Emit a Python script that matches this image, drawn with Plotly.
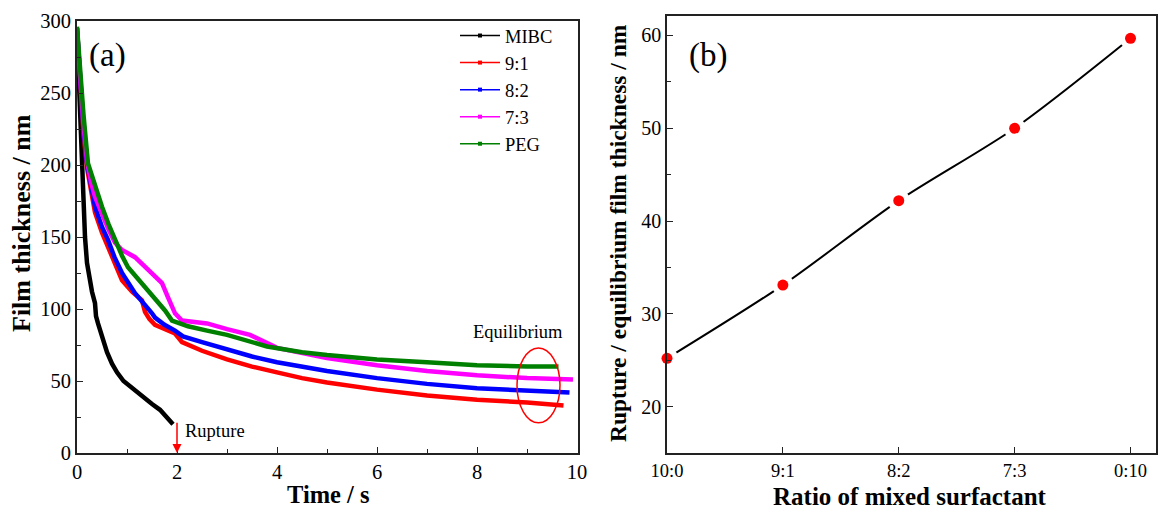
import plotly.graph_objects as go

# ---------------- Data ----------------
mibc_t = [0, 0.03, 0.06, 0.1, 0.13, 0.16, 0.2, 0.25, 0.3, 0.36, 0.38, 0.42, 0.5, 0.6, 0.7, 0.8, 0.93, 1.1, 1.33, 1.5, 1.66, 1.8, 1.92]
mibc_h = [292, 262, 232, 196, 170, 150, 132, 120, 112, 104, 95, 90, 80, 70, 62, 56, 50, 45, 39, 34, 30, 25, 20]

r91_t = [0, 0.04, 0.08, 0.13, 0.2, 0.28, 0.36, 0.5, 0.62, 0.75, 0.9, 1.1, 1.3, 1.36, 1.45, 1.56, 1.75, 1.96, 2.1, 2.5, 3.0, 3.5, 4.0, 4.5, 5.0, 6.0, 7.0, 8.0, 9.0, 9.73]
r91_h = [295, 268, 245, 222, 198, 180, 167, 153, 143, 131, 120, 112, 106, 98, 93, 89, 86, 83, 77, 71, 65, 60, 56, 52, 49, 44, 40, 37, 35, 33]

r82_t = [0, 0.04, 0.08, 0.13, 0.2, 0.28, 0.36, 0.5, 0.62, 0.75, 0.9, 1.16, 1.42, 1.5, 1.56, 1.75, 1.96, 2.12, 2.5, 3.0, 3.5, 4.0, 4.5, 5.0, 6.0, 7.0, 8.0, 9.0, 9.85]
r82_h = [295, 270, 247, 225, 201, 184, 171, 157, 148, 136, 125, 111, 101, 97, 94, 89, 85, 81, 77, 72, 67, 63, 60, 57, 52, 48, 45, 43, 42]

r73_t = [0, 0.04, 0.08, 0.13, 0.2, 0.28, 0.36, 0.5, 0.62, 0.76, 0.9, 1.16, 1.5, 1.7, 1.82, 1.96, 2.1, 2.36, 2.6, 3.0, 3.46, 4.0, 5.0, 6.0, 7.0, 8.0, 9.0, 9.92]
r73_h = [293, 272, 250, 228, 203, 188, 178, 166, 156, 146, 141, 136, 125, 118, 108, 97, 92, 91, 90, 86, 82, 73, 66, 61, 57, 54, 52, 51]

peg_t = [0, 0.04, 0.08, 0.13, 0.22, 0.36, 0.5, 0.63, 0.76, 0.9, 1.02, 1.3, 1.56, 1.76, 1.9, 2.22, 2.6, 3.0, 3.8, 4.5, 5.0, 6.0, 7.0, 8.0, 9.0, 9.63]
peg_h = [296, 276, 256, 235, 201, 185, 171, 159, 148, 137, 129, 118, 108, 99, 92, 88, 85, 82, 74, 70, 68, 65, 63, 61, 60, 60]

series_names = ["MIBC", "9:1", "8:2", "7:3", "PEG"]
series_colors = ["#000000", "#ff0000", "#0000ff", "#ff00ff", "#008000"]

ratio_labels = ["10:0", "9:1", "8:2", "7:3", "0:10"]
ratio_thickness = [25.2, 33.1, 42.2, 50.0, 59.7]

x_ticks_a = [0, 2, 4, 6, 8, 10]
y_ticks_a = [0, 50, 100, 150, 200, 250, 300]
y_ticks_b = [20, 30, 40, 50, 60]

# ---------------- Layout geometry ----------------
W, H = 1158, 509
ML, MR, MT, MB = 77, 2, 16, 56
PW, PH = W - ML - MR, H - MT - MB


def px_x(px):
    return (px - ML) / PW


def px_y(py):
    return (H - MB - py) / PH


FONT = "Liberation Serif"
fig = go.Figure()

series = [(mibc_t, mibc_h), (r91_t, r91_h), (r82_t, r82_h), (r73_t, r73_h), (peg_t, peg_h)]
for (t, h), name, col in zip(series, series_names, series_colors):
    fig.add_trace(go.Scatter(x=t, y=h, mode="lines", line=dict(color=col, width=4.5),
                             showlegend=False, xaxis="x", yaxis="y", hoverinfo="skip"))
# legend entries
for name, col in zip(series_names, series_colors):
    fig.add_trace(go.Scatter(x=[None], y=[None], mode="lines+markers", name=name,
                             line=dict(color=col, width=1.5),
                             marker=dict(color=col, size=4, symbol="square"),
                             xaxis="x", yaxis="y"))

# panel (b)
idx = list(range(len(ratio_labels)))
fig.add_trace(go.Scatter(x=idx, y=ratio_thickness, mode="lines",
                         line=dict(color="black", width=2, shape="spline", smoothing=0.8),
                         showlegend=False, xaxis="x2", yaxis="y2"))
fig.add_trace(go.Scatter(x=idx, y=ratio_thickness, mode="markers",
                         marker=dict(color="white", size=22),
                         showlegend=False, xaxis="x2", yaxis="y2", cliponaxis=False))
fig.add_trace(go.Scatter(x=idx, y=ratio_thickness, mode="markers",
                         marker=dict(color="#ff0000", size=11),
                         showlegend=False, xaxis="x2", yaxis="y2", cliponaxis=False))

axis_common = dict(showline=True, linecolor="#222", linewidth=1.6, mirror=True,
                   ticks="inside", tickcolor="#222", tickwidth=1.4, ticklen=6,
                   showgrid=False, zeroline=False, automargin=False)


def tf(size):
    return dict(family=FONT, size=size, color="black")


fig.update_layout(
    width=W, height=H,
    margin=dict(l=ML, r=MR, t=MT, b=MB),
    paper_bgcolor="white", plot_bgcolor="white",
    font=dict(family=FONT, color="black"),
    xaxis=dict(domain=[0, px_x(578)], range=[0, 10.02], tickvals=x_ticks_a, tickfont=tf(20.5),
               minor=dict(dtick=1, ticks="inside", ticklen=4, tickcolor="#222"),
               anchor="y", **axis_common),
    yaxis=dict(domain=[0, px_y(21)], range=[0, 300], tickvals=y_ticks_a, tickfont=tf(20.5),
               minor=dict(dtick=25, ticks="inside", ticklen=4, tickcolor="#222"),
               anchor="x", **axis_common),
    xaxis2=dict(domain=[px_x(667), 1], range=[0, 4.22], tickvals=idx, ticktext=ratio_labels,
                tickfont=tf(18.5), anchor="y2", **axis_common),
    yaxis2=dict(domain=[0, 1], range=[15, 62.1], tickvals=y_ticks_b, tickfont=tf(20),
                minor=dict(dtick=5, ticks="inside", ticklen=4, tickcolor="#222"),
                anchor="x2", **axis_common),
    legend=dict(x=px_x(455), y=px_y(17), xref="paper", yref="paper", xanchor="left", yanchor="top",
                bgcolor="rgba(0,0,0,0)", font=tf(18.5), itemwidth=40),
    showlegend=True,
)

# axis titles as annotations (exact placement)
ann_c = dict(xref="paper", yref="paper", showarrow=False, xanchor="center", yanchor="middle")
fig.add_annotation(x=px_x(328), y=px_y(495), text="<b>Time / s</b>", font=tf(24.5), **ann_c)
fig.add_annotation(x=px_x(910), y=px_y(496), text="<b>Ratio of mixed surfactant</b>", font=tf(25), **ann_c)
fig.add_annotation(x=px_x(21), y=px_y(223), text="<b>Film thickness / nm</b>", textangle=-90,
                   font=tf(26), **ann_c)
fig.add_annotation(x=px_x(618), y=px_y(233), text="<b>Rupture / equilibrium film thickness / nm</b>",
                   textangle=-90, font=tf(23.5), **ann_c)

# panel labels and notes
fig.add_annotation(x=px_x(87), y=px_y(35), xref="paper", yref="paper", text="(a)", showarrow=False,
                   xanchor="left", yanchor="top", font=tf(33))
fig.add_annotation(x=px_x(687), y=px_y(35), xref="paper", yref="paper", text="(b)", showarrow=False,
                   xanchor="left", yanchor="top", font=tf(33))
fig.add_annotation(x=8.82, y=84, xref="x", yref="y", text="Equilibrium", showarrow=False, font=tf(18.5))
fig.add_annotation(x=2.12, y=15, xref="x", yref="y", text="Rupture", showarrow=False,
                   xanchor="left", font=tf(18.5))
fig.add_annotation(x=2.0, y=0, ax=2.0, ay=22, xref="x", yref="y", axref="x", ayref="y",
                   text="", showarrow=True, arrowhead=2, arrowsize=1.2, arrowwidth=1.5, arrowcolor="#ff0000")
fig.add_shape(type="circle", xref="x", yref="y", x0=8.8, x1=9.66, y0=21, y1=73,
              line=dict(color="#ff0000", width=1.5))

fig.write_html("out.html", config={"displayModeBar": False},
               post_script="document.body.style.margin='0px';document.body.style.overflow='hidden';")
